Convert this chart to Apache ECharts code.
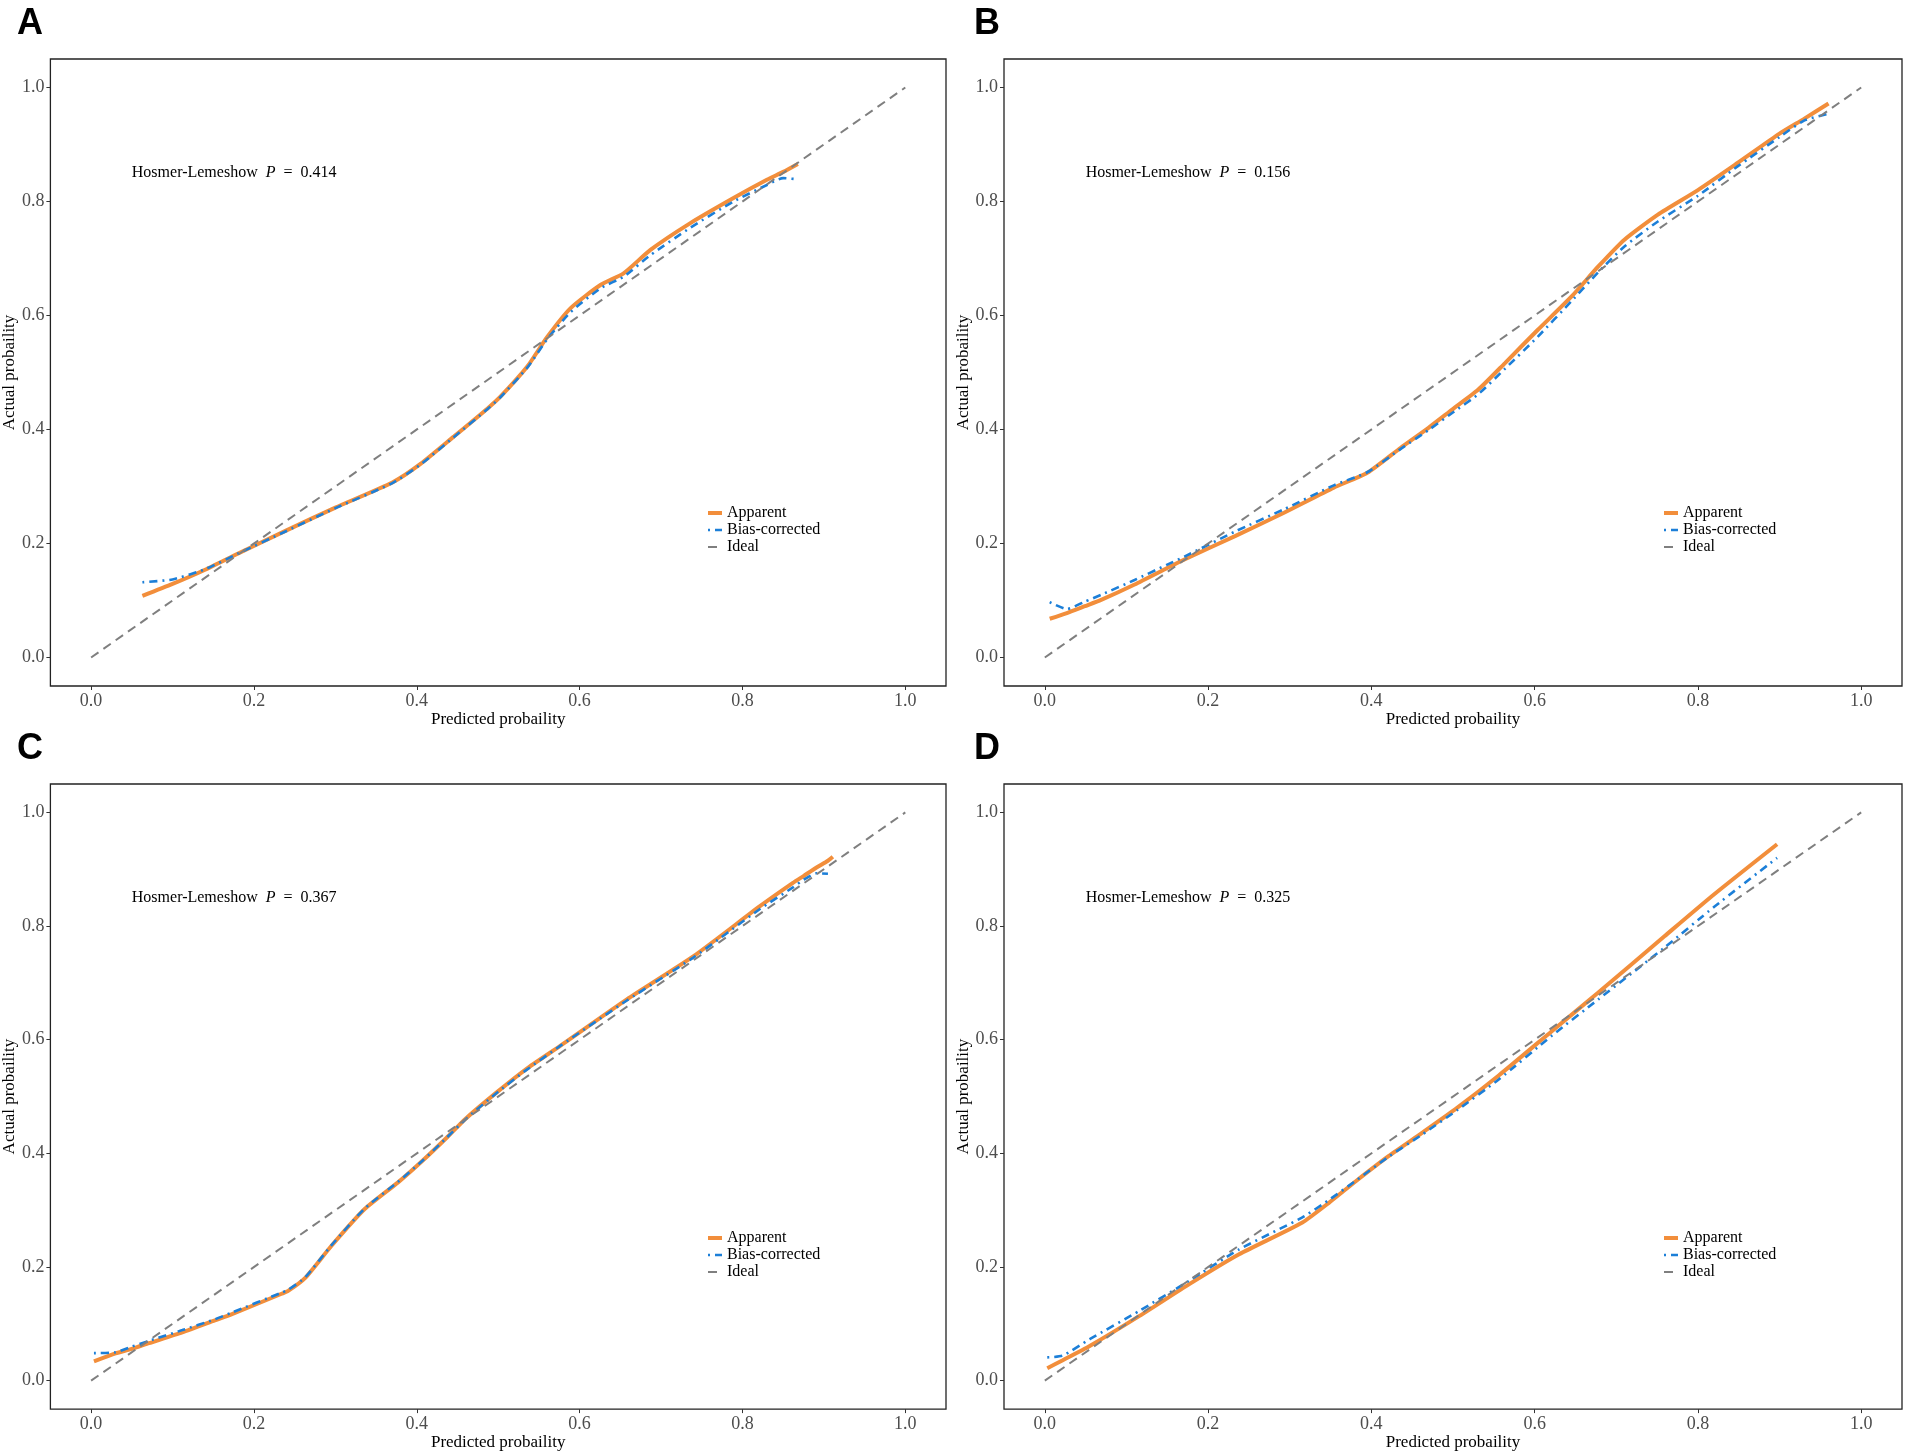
<!DOCTYPE html>
<html>
<head>
<meta charset="utf-8" />
<title>Calibration curves</title>
<script src="https://cdn.jsdelivr.net/npm/echarts@6/dist/echarts.min.js"></script>
<style>
    html, body { margin: 0; padding: 0; background: #fff; }
    #main { width: 1907px; height: 1452px; }
</style>
</head>
<body>
<div id="main"></div>
<script type="text/javascript">
// panel letters and Hosmer-Lemeshow P values
var panels = ['A', 'B', 'C', 'D'];
var hlP = ['0.414', '0.156', '0.367', '0.325'];
var tickValues = [0, 0.2, 0.4, 0.6, 0.8, 1.0];
var idealLine = [0, 1];

// A
var predA = [0.063, 0.10, 0.14, 0.18, 0.24, 0.30, 0.37, 0.405, 0.445, 0.487, 0.503, 0.536, 0.56, 0.589, 0.626, 0.654, 0.687, 0.736, 0.789, 0.83, 0.85, 0.868];
var appA  = [0.108, 0.129, 0.154, 0.182, 0.223, 0.263, 0.307, 0.340, 0.387, 0.437, 0.458, 0.511, 0.562, 0.613, 0.654, 0.674, 0.715, 0.762, 0.806, 0.838, 0.852, 0.866];
var biasA = [0.132, 0.137, 0.155, 0.182, 0.222, 0.262, 0.306, 0.339, 0.386, 0.436, 0.457, 0.509, 0.558, 0.606, 0.648, 0.668, 0.706, 0.754, 0.800, 0.829, 0.841, 0.839];

// B
var predB = [0.006, 0.027, 0.049, 0.069, 0.11, 0.15, 0.171, 0.233, 0.293, 0.354, 0.395, 0.436, 0.47, 0.499, 0.531, 0.564, 0.604, 0.645, 0.678, 0.71, 0.751, 0.80, 0.849, 0.90, 0.93, 0.96];
var appB  = [0.068, 0.078, 0.090, 0.101, 0.128, 0.157, 0.172, 0.213, 0.254, 0.298, 0.324, 0.368, 0.403, 0.435, 0.470, 0.517, 0.575, 0.633, 0.686, 0.733, 0.777, 0.820, 0.868, 0.919, 0.945, 0.972];
var biasB = [0.097, 0.085, 0.098, 0.110, 0.136, 0.163, 0.177, 0.221, 0.260, 0.302, 0.325, 0.366, 0.399, 0.429, 0.462, 0.507, 0.563, 0.625, 0.676, 0.721, 0.765, 0.810, 0.862, 0.913, 0.942, 0.954];

// C
var predC = [0.0035, 0.03, 0.05, 0.071, 0.112, 0.152, 0.173, 0.234, 0.242, 0.263, 0.295, 0.336, 0.377, 0.407, 0.437, 0.46, 0.497, 0.534, 0.577, 0.658, 0.740, 0.8215, 0.862, 0.875, 0.891, 0.905, 0.911];
var appC  = [0.034, 0.048, 0.056, 0.066, 0.085, 0.106, 0.117, 0.153, 0.158, 0.181, 0.237, 0.302, 0.349, 0.387, 0.428, 0.461, 0.506, 0.548, 0.590, 0.671, 0.747, 0.835, 0.876, 0.888, 0.903, 0.915, 0.922];
var biasC = [0.0485, 0.050, 0.060, 0.070, 0.089, 0.108, 0.120, 0.155, 0.160, 0.182, 0.238, 0.303, 0.350, 0.387, 0.428, 0.460, 0.505, 0.546, 0.590, 0.669, 0.745, 0.830, 0.868, 0.8815, 0.893, 0.892, null];

// D
var predD = [0.003, 0.022, 0.055, 0.116, 0.177, 0.238, 0.315, 0.348, 0.381, 0.421, 0.462, 0.505, 0.556, 0.621, 0.678, 0.759, 0.82, 0.897];
var appD  = [0.022, 0.036, 0.061, 0.114, 0.170, 0.2225, 0.278, 0.313, 0.351, 0.395, 0.436, 0.480, 0.537, 0.615, 0.683, 0.782, 0.856, 0.944];
var biasD = [0.041, 0.044, 0.073, 0.123, 0.176, 0.231, 0.287, 0.318, 0.352, 0.394, 0.433, 0.476, 0.530, 0.607, 0.671, 0.762, 0.834, 0.920];

var preds = [predA, predB, predC, predD];
var apps  = [appA, appB, appC, appD];
var biases = [biasA, biasB, biasC, biasD];

var serif = 'Liberation Serif, Times New Roman, serif';
var gridPos = [[48, 59], [1004, 59], [48, 784], [1004, 784]];
var gridW = 898, gridH = 627;

function pairs(xs, ys) {
    var out = [];
    for (var k = 0; k < xs.length; k++) {
        if (ys[k] !== null) out.push([xs[k], ys[k]]);
    }
    return out;
}

var grids = [], xAxes = [], yAxes = [], series = [], legends = [];

panels.forEach(function (p, i) {
    grids.push({
        left: gridPos[i][0], top: gridPos[i][1], width: gridW, height: gridH,
        show: true, borderColor: '#222', borderWidth: 1.3, backgroundColor: 'transparent'
    });
    var axisCommon = {
        type: 'value', gridIndex: i, min: -0.05, max: 1.05,
        splitLine: { show: false },
        axisLine: { show: false, onZero: false },
        axisTick: { show: true, inside: false, length: 4, customValues: tickValues, lineStyle: { color: '#333' } },
        nameLocation: 'middle',
        nameTextStyle: { fontFamily: serif, fontSize: 17, color: '#000' }
    };
    xAxes.push(Object.assign({}, axisCommon, {
        name: 'Predicted probaility', nameGap: 20,
        axisLabel: { customValues: tickValues, margin: 6, fontFamily: serif, fontSize: 18, color: '#4d4d4d',
            formatter: function (v) { return v.toFixed(1); } }
    }));
    yAxes.push(Object.assign({}, axisCommon, {
        name: 'Actual probaility', nameGap: 29,
        axisLabel: { customValues: tickValues, margin: 6, fontFamily: serif, fontSize: 18, color: '#4d4d4d',
            formatter: function (v) { return v.toFixed(1); } }
    }));

    series.push({
        name: 'Apparent', type: 'line', xAxisIndex: i, yAxisIndex: i,
        data: pairs(preds[i], apps[i]), showSymbol: false, symbol: 'none', smooth: 0.2,
        lineStyle: { color: '#F28E3B', width: 4 }, itemStyle: { color: '#F28E3B' }, z: 2
    });
    series.push({
        name: 'Bias-corrected', type: 'line', xAxisIndex: i, yAxisIndex: i,
        data: pairs(preds[i], biases[i]), showSymbol: false, symbol: 'none', smooth: 0.2,
        lineStyle: { color: '#1C7FD8', width: 2.6, type: [2, 5, 8, 5] }, itemStyle: { color: '#1C7FD8' }, z: 3
    });
    series.push({
        name: 'Ideal', type: 'line', xAxisIndex: i, yAxisIndex: i,
        data: pairs(idealLine, idealLine), showSymbol: false, symbol: 'none',
        lineStyle: { color: '#7F7F7F', width: 2, type: [9, 6] }, itemStyle: { color: '#7F7F7F' }, z: 4
    });

    legends.push({
        orient: 'vertical', left: gridPos[i][0] + 658, top: gridPos[i][1] + 446,
        data: ['Apparent', 'Bias-corrected', 'Ideal'],
        selectedMode: false, itemWidth: 14, itemHeight: 10, itemGap: 1, padding: 0,
        itemStyle: { opacity: 0 },
        lineStyle: { width: 'inherit' },
        textStyle: { fontFamily: serif, fontSize: 16, color: '#000', lineHeight: 15 }
    });
});

var chart = echarts.init(document.getElementById('main'), null, { renderer: 'canvas' });
chart.setOption({
    backgroundColor: '#fff',
    animation: false,
    grid: grids,
    xAxis: xAxes,
    yAxis: yAxes,
    legend: legends,
    series: series
});

// panel letters and the Hosmer-Lemeshow annotation at data coords (0.05, 0.85)
var graphics = [];
panels.forEach(function (p, i) {
    graphics.push({
        type: 'text', x: gridPos[i][0] - 31 + (i % 2 ? 1 : 0), y: gridPos[i][1] - 53,
        style: { text: p, font: 'bold 36px Liberation Sans, Arial, sans-serif', fill: '#000' }
    });
    var pt = chart.convertToPixel({ gridIndex: i }, [0.05, 0.85]);
    graphics.push({
        type: 'text', x: pt[0], y: pt[1],
        style: {
            text: '{n|Hosmer-Lemeshow  }{i|P}{n|  =  ' + hlP[i] + '}',
            verticalAlign: 'middle', align: 'left',
            rich: {
                n: { fontFamily: serif, fontSize: 16, color: '#000' },
                i: { fontFamily: serif, fontSize: 16, fontStyle: 'italic', color: '#000' }
            }
        }
    });
});
chart.setOption({ graphic: graphics });
</script>
</body>
</html>
